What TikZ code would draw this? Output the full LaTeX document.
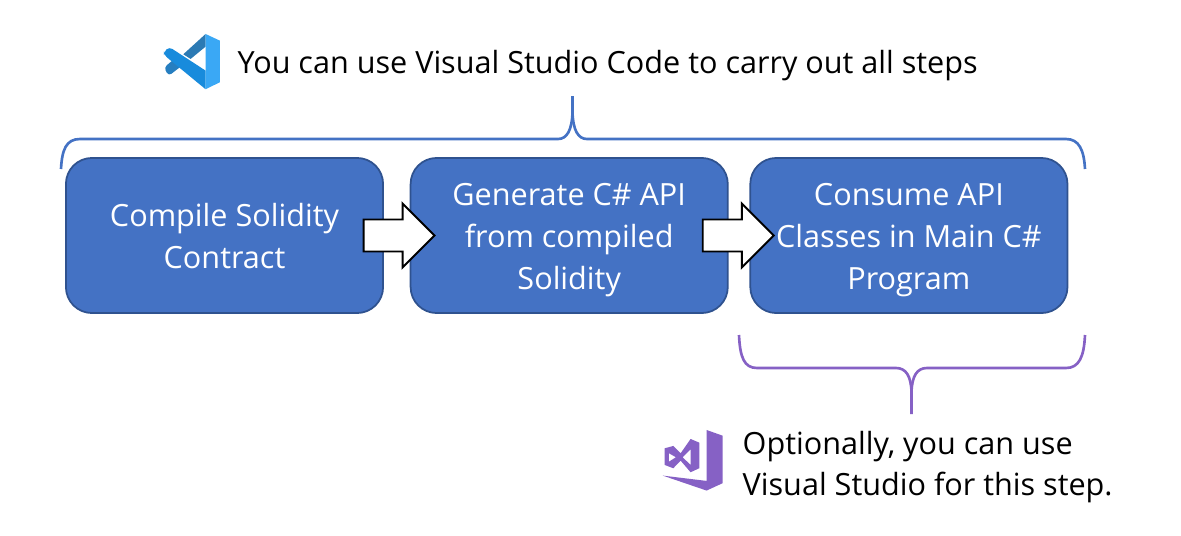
\documentclass[tikz,border=0pt]{standalone}
\usepackage{fontspec}
\setmainfont{Open Sans}
\usetikzlibrary{shapes.arrows}
\definecolor{boxblue}{HTML}{4472C4}
\definecolor{boxedge}{HTML}{2F528F}
\definecolor{vspurple}{HTML}{8661C5}
\newcommand{\firstline}{\rule{0pt}{0.31cm}}
\tikzstyle{stepbox} = [rectangle, rounded corners=0.26cm, minimum width=3.17cm, minimum height=1.55cm, inner sep=0pt, align=center, text=white, draw=boxedge, line width=0.5pt, fill=boxblue, font=\fontsize{8.7}{11.9}\selectfont]
\tikzstyle{blockarrow} = [single arrow, single arrow head extend=0.16cm, single arrow tip angle=90, minimum width=0.62cm, minimum height=0.71cm, inner sep=0.15cm, draw=black, line width=0.55pt, fill=white]
\tikzstyle{note} = [inner sep=0pt, anchor=west, align=left, text=black, font=\fontsize{8.7}{11.7}\selectfont]
\tikzstyle{bracket} = [line width=0.75pt, line cap=butt]

\begin{document}
\begin{tikzpicture}[x=0.01cm, y=-0.01cm, node distance=3.445cm]
\useasboundingbox (0,0) rectangle (1181,536);

% Steps
\node (compile) [stepbox] at (224.5,235.5) {\rule{0pt}{0.24cm}Compile Solidity\\Contract};
\node (generate) [stepbox, right of=compile] {\firstline Generate C\# API\\from compiled\\Solidity};
\node (consume) [stepbox, right of=generate, xshift=-0.05cm] {\firstline Consume API\\Classes in Main C\#\\Program};

% Block arrows
\node (first) [blockarrow, right of=compile, xshift=-1.78cm] {};
\node (second) [blockarrow, right of=generate, xshift=-1.835cm] {};

% Braces
\draw [bracket, draw=boxblue] (61,169) .. controls (62,150) and (66,139) .. (80,139) -- (558,139) .. controls (567,139) and (572,130) .. (572.5,112) -- (572.5,96);
\draw [bracket, draw=boxblue] (572.5,112) .. controls (573,130) and (578,139) .. (587,139) -- (1066,139) .. controls (1079,139) and (1084,150) .. (1085,169);
\draw [bracket, draw=vspurple] (739,335) .. controls (740,357) and (744,368) .. (757,368) -- (896,368) .. controls (906,368) and (911,376) .. (911.5,392) -- (911.5,414);
\draw [bracket, draw=vspurple] (911.5,392) .. controls (912,376) and (917,368) .. (927,368) -- (1066,368) .. controls (1079,368) and (1084,357) .. (1085,335);

% Labels
\node (codetext) [note] at (237,65.5) {You can use Visual Studio Code to carry out all steps};
\node (studiotext) [note] at (742,467) {Optionally, you can use\\Visual Studio for this step.};

% Code logo
\begin{scope}[shift={(150,25)}, x=0.00333cm, y=-0.00333cm]
\fill [fill={rgb,255:red,43;green,122;blue,180}] (167,27) -- (100,88) -- (122,102) -- (167,65) -- cycle;
\fill [rounded corners=1pt, fill={rgb,255:red,38;green,126;blue,192}] (80,96) -- (42,128) -- (56,153) -- (104,116) -- cycle;
\fill [fill={rgb,255:red,24;green,139;blue,220}] (167,137) -- (167,193) [rounded corners=1pt] -- (42,90) -- (42,80) -- (58,66) [sharp corners] -- cycle;
\fill [fill={rgb,255:red,58;green,168;blue,245}] (167,27) -- (210,47) -- (210,172) -- (167,193) -- cycle;
\end{scope}

% Studio logo
\begin{scope}[shift={(650,420)}, x=0.00333cm, y=-0.00333cm]
\fill [fill=vspurple] (170,30) -- (218,47) -- (218,190) -- (170,212) -- (38,167) -- (170,183) -- cycle;
\fill [fill=vspurple, even odd rule] (44,85) -- (70,78) -- (92,100) -- (122,57) -- (148,68) -- (148,145) -- (122,157) -- (92,122) -- (70,145) -- (44,135) -- cycle
  (57,100) -- (78,112) -- (57,125) -- cycle (122,88) -- (98,112) -- (122,135) -- cycle;
\end{scope}

\end{tikzpicture}
\end{document}
